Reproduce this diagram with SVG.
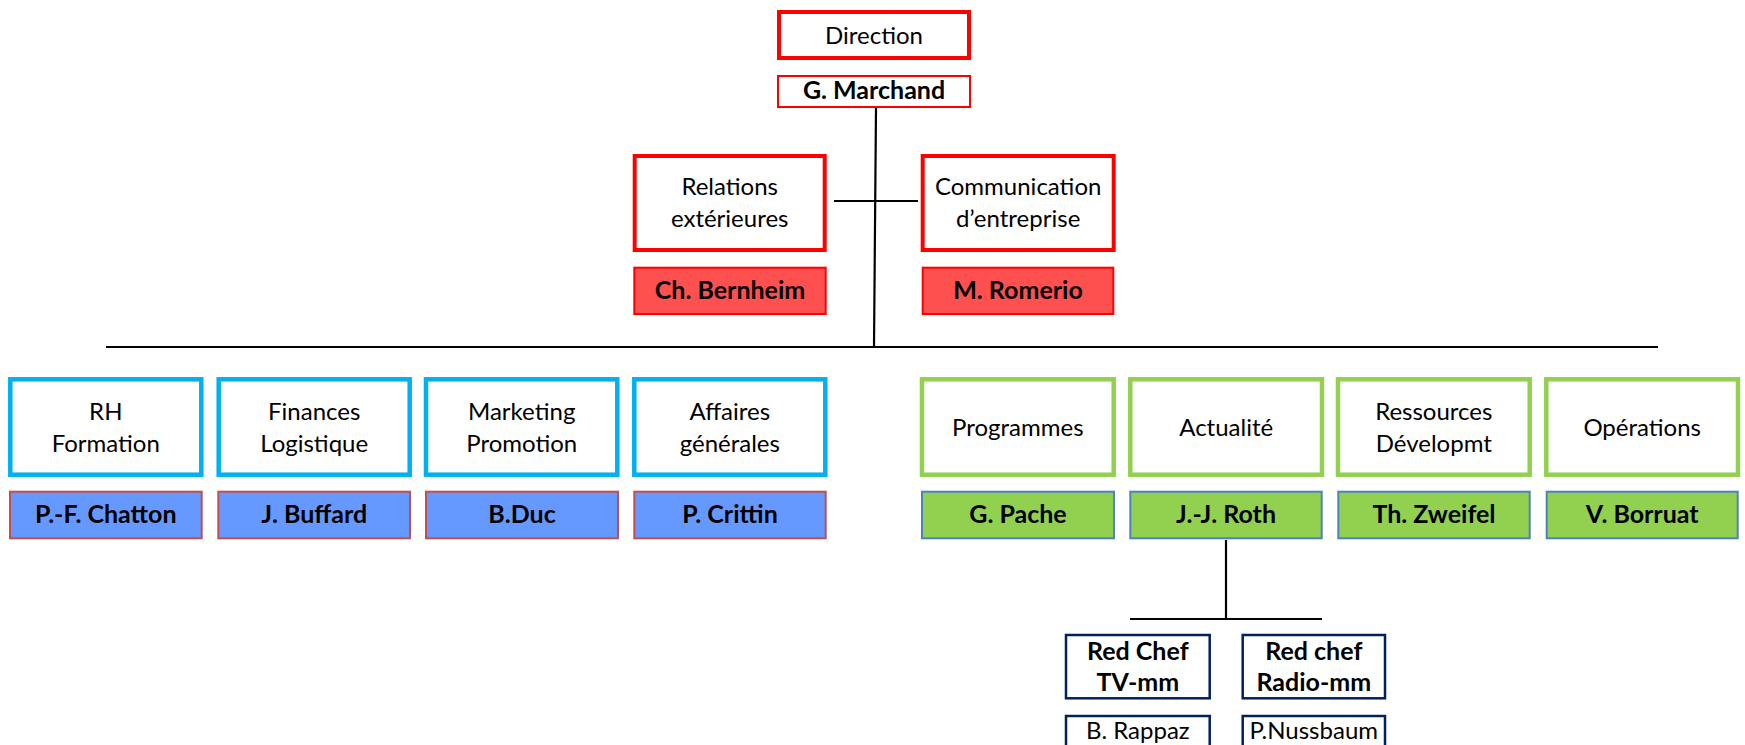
<svg xmlns="http://www.w3.org/2000/svg" width="1745" height="745" viewBox="0 0 1745 745">
<style>
text{font-family:Lato,"Liberation Sans",sans-serif;font-size:24px;fill:#000;text-anchor:middle}
.b{font-weight:bold;font-size:25px}
.red{fill:#fff;stroke:#FF0000;stroke-width:4}
.redn{fill:#fff;stroke:#FF0000;stroke-width:2}
.redf{fill:#FF5050;stroke:#FF0000;stroke-width:2}
.cy{fill:#fff;stroke:#00B0F0;stroke-width:4.5}
.bl{fill:#6699FF;stroke:#C0504D;stroke-width:2}
.gr{fill:#fff;stroke:#92D050;stroke-width:4.5}
.gf{fill:#92D050;stroke:#4F81BD;stroke-width:2}
.nv{fill:#fff;stroke:#002060;stroke-width:2.5}
.ln{stroke:#000;stroke-width:2.2;fill:none}
</style>
<g id="connectors">
<line class="ln" x1="876" y1="108" x2="874" y2="347"/>
<line class="ln" x1="834" y1="201" x2="918" y2="201"/>
<line class="ln" x1="106" y1="347" x2="1658" y2="347"/>
<line class="ln" x1="1226" y1="540" x2="1226" y2="619"/>
<line class="ln" x1="1130" y1="619" x2="1322" y2="619"/>
</g>
<g id="direction"><rect class="red" x="779" y="12" width="190" height="46"/><text x="874" y="44">Direction</text></g>
<g id="marchand"><rect class="redn" x="778" y="76" width="192" height="31"/><text class="b" x="874" y="99">G. Marchand</text></g>
<g id="relations"><rect class="red" x="634.7" y="156" width="190" height="94"/><text x="729.7" y="195">Relations</text><text x="729.7" y="227">extérieures</text></g>
<g id="bernheim"><rect class="redf" x="634.3" y="267.7" width="191.4" height="46.3"/><text class="b" x="730" y="299">Ch. Bernheim</text></g>
<g id="communication"><rect class="red" x="922.7" y="156" width="191" height="94"/><text x="1018.2" y="195">Communication</text><text x="1018.2" y="227">d’entreprise</text></g>
<g id="romerio"><rect class="redf" x="922.7" y="267.7" width="190.6" height="46.3"/><text class="b" x="1018" y="299">M. Romerio</text></g>

<g id="rh"><rect class="cy" x="10.3" y="379.3" width="191" height="95.4"/><text x="105.8" y="420">RH</text><text x="105.8" y="452">Formation</text></g>
<g id="chatton"><rect class="bl" x="10" y="491.7" width="191.7" height="46.6"/><text class="b" x="105.8" y="523">P.-F. Chatton</text></g>
<g id="finances"><rect class="cy" x="218.7" y="379.3" width="191" height="95.4"/><text x="314.2" y="420">Finances</text><text x="314.2" y="452">Logistique</text></g>
<g id="buffard"><rect class="bl" x="218.3" y="491.7" width="191.7" height="46.6"/><text class="b" x="314.2" y="523">J. Buffard</text></g>
<g id="marketing"><rect class="cy" x="426" y="379.3" width="191.3" height="95.4"/><text x="521.7" y="420">Marketing</text><text x="521.7" y="452">Promotion</text></g>
<g id="duc"><rect class="bl" x="426" y="491.7" width="192" height="46.6"/><text class="b" x="522" y="523">B.Duc</text></g>
<g id="affaires"><rect class="cy" x="634.3" y="379.3" width="191" height="95.4"/><text x="729.8" y="420">Affaires</text><text x="729.8" y="452">générales</text></g>
<g id="crittin"><rect class="bl" x="634.3" y="491.7" width="191.4" height="46.6"/><text class="b" x="730" y="523">P. Crittin</text></g>

<g id="programmes"><rect class="gr" x="922" y="379.3" width="191.7" height="95.4"/><text x="1017.8" y="436">Programmes</text></g>
<g id="pache"><rect class="gf" x="922" y="491.7" width="192" height="46.6"/><text class="b" x="1018" y="523">G. Pache</text></g>
<g id="actualite"><rect class="gr" x="1130.3" y="379.3" width="191.7" height="95.4"/><text x="1226.2" y="436">Actualité</text></g>
<g id="roth"><rect class="gf" x="1130.3" y="491.7" width="191.4" height="46.6"/><text class="b" x="1226" y="523">J.-J. Roth</text></g>
<g id="ressources"><rect class="gr" x="1338" y="379.3" width="191.7" height="95.4"/><text x="1433.8" y="420">Ressources</text><text x="1433.8" y="452">Dévelopmt</text></g>
<g id="zweifel"><rect class="gf" x="1338.3" y="491.7" width="191.4" height="46.6"/><text class="b" x="1434" y="523">Th. Zweifel</text></g>
<g id="operations"><rect class="gr" x="1546.3" y="379.3" width="191.7" height="95.4"/><text x="1642.2" y="436">Opérations</text></g>
<g id="borruat"><rect class="gf" x="1546.7" y="491.7" width="191" height="46.6"/><text class="b" x="1642.2" y="523">V. Borruat</text></g>

<g id="redchef-tv"><rect class="nv" x="1066" y="635" width="143.7" height="63.3"/><text class="b" x="1137.8" y="660">Red Chef</text><text class="b" x="1137.8" y="691">TV-mm</text></g>
<g id="redchef-radio"><rect class="nv" x="1242.7" y="635" width="142.3" height="63.3"/><text class="b" x="1313.8" y="660">Red chef</text><text class="b" x="1313.8" y="691">Radio-mm</text></g>
<g id="rappaz"><rect class="nv" x="1066" y="716" width="143.7" height="40"/><text x="1137.8" y="739">B. Rappaz</text></g>
<g id="nussbaum"><rect class="nv" x="1242.7" y="716" width="142.3" height="40"/><text x="1313.8" y="739">P.Nussbaum</text></g>
</svg>
